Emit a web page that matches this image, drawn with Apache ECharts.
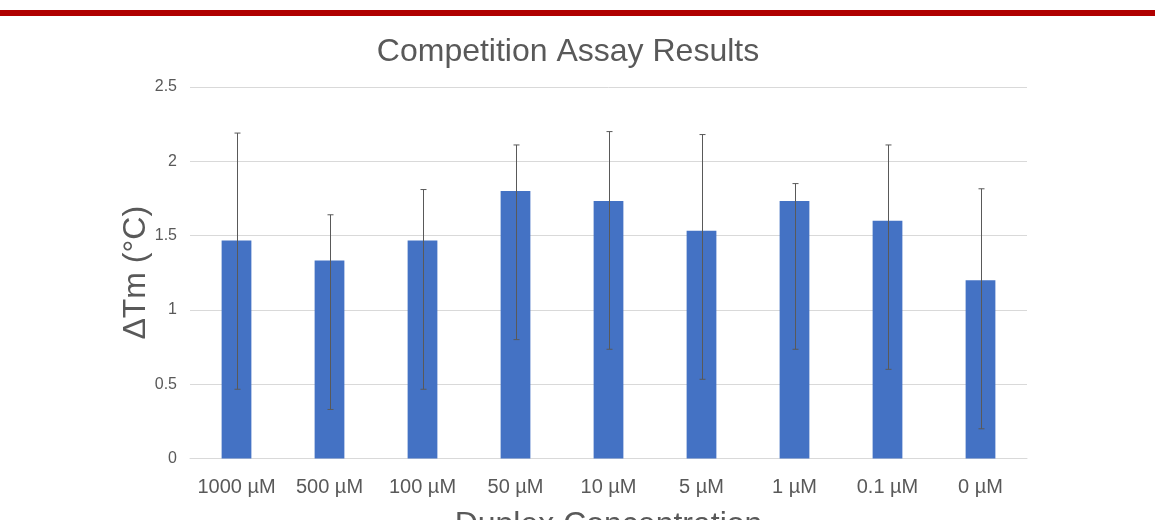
<!DOCTYPE html>
<html>
<head>
<meta charset="utf-8">
<script src="https://cdn.jsdelivr.net/npm/echarts@6/dist/echarts.min.js"></script>
<style>
  html, body { margin: 0; padding: 0; background: #ffffff; }
  #chart { width: 1155px; height: 520px; }
</style>
</head>
<body>
<div id="chart"></div>
<script>
const categories = ['1000 µM', '500 µM', '100 µM', '50 µM', '10 µM', '5 µM', '1 µM', '0.1 µM', '0 µM'];
const values = [1.467, 1.333, 1.467, 1.8, 1.733, 1.533, 1.733, 1.6, 1.2];
const errLow = [0.466, 0.33, 0.466, 0.80, 0.735, 0.533, 0.735, 0.60, 0.20];
const errHigh = [2.19, 1.64, 1.81, 2.11, 2.20, 2.18, 1.85, 2.11, 1.815];
const yMin = 0, yMax = 2.5, yStep = 0.5;

const errData = categories.map((c, i) => [i, errLow[i], errHigh[i]]);
const font = 'Liberation Sans, Arial, sans-serif';
const textColor = '#595959';

const chart = echarts.init(document.getElementById('chart'));
chart.setOption({
  animation: false,
  backgroundColor: '#ffffff',
  graphic: [{
    type: 'rect',
    shape: { x: 0, y: 10, width: 1155, height: 6 },
    style: { fill: '#B00000' },
    silent: true
  }],
  title: {
    text: 'Competition Assay Results',
    left: 568,
    textAlign: 'center',
    top: 36,
    padding: 0,
    textStyle: { fontFamily: font, fontSize: 32, fontWeight: 'normal', color: textColor }
  },
  grid: { left: 190, right: 128, top: 87, bottom: 61.5, containLabel: false, outerBoundsMode: 'none' },
  xAxis: {
    type: 'category',
    data: categories,
    name: 'Duplex Concentration',
    nameLocation: 'middle',
    nameGap: 51,
    nameMoveOverlap: false,
    nameTextStyle: { fontFamily: font, fontSize: 32, color: textColor },
    axisLine: { lineStyle: { color: '#d9d9d9', width: 1 } },
    axisTick: { show: false },
    axisLabel: { fontFamily: font, fontSize: 20, color: textColor, margin: 19, interval: 0 }
  },
  yAxis: {
    type: 'value',
    min: yMin, max: yMax, interval: yStep,
    name: 'ΔTm (°C)',
    nameLocation: 'middle',
    nameGap: 38,
    nameMoveOverlap: false,
    nameTextStyle: { fontFamily: font, fontSize: 32, color: textColor },
    axisLine: { show: false },
    axisTick: { show: false },
    axisLabel: { fontFamily: font, fontSize: 16, color: textColor, margin: 13 },
    splitLine: { lineStyle: { color: '#d9d9d9', width: 1 } }
  },
  series: [{
    type: 'bar',
    data: values,
    barWidth: '32%',
    itemStyle: { color: '#4472C4' }
  }, {
    type: 'custom',
    data: errData,
    encode: { x: 0, y: [1, 2] },
    z: 10,
    renderItem: function (params, api) {
      const idx = api.value(0);
      const lo = api.coord([idx, api.value(1)]);
      const hi = api.coord([idx, api.value(2)]);
      const x = Math.round(lo[0]) + 0.5;
      const cap = 3;
      const style = { stroke: '#595959', lineWidth: 1, fill: null };
      return {
        type: 'group',
        children: [
          { type: 'line', shape: { x1: x, y1: hi[1], x2: x, y2: lo[1] }, style: style },
          { type: 'line', shape: { x1: x - cap, y1: hi[1], x2: x + cap, y2: hi[1] }, style: style },
          { type: 'line', shape: { x1: x - cap, y1: lo[1], x2: x + cap, y2: lo[1] }, style: style }
        ]
      };
    }
  }]
});
</script>
</body>
</html>
